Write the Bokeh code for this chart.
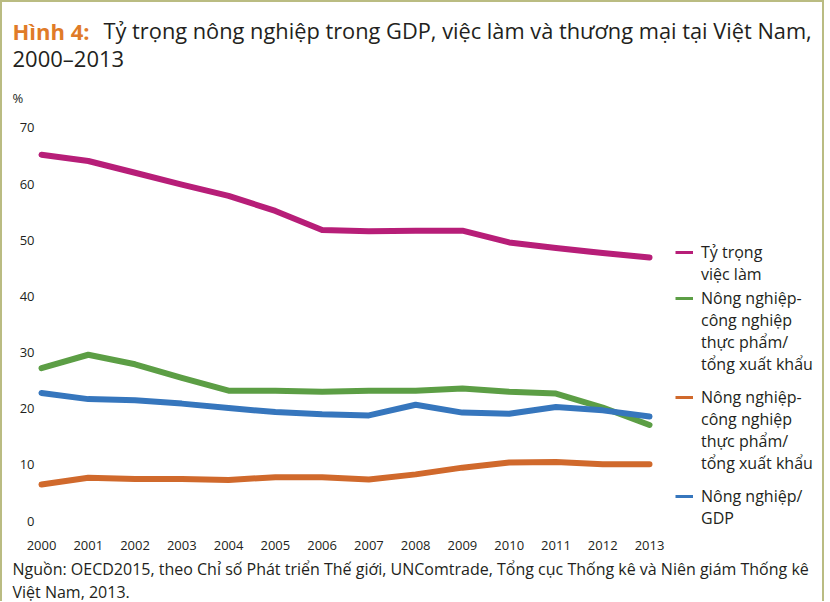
from bokeh.plotting import figure
from bokeh.layouts import column
from bokeh.models import (Range1d, FixedTicker, Legend, LegendItem, Label,
                          ColumnDataSource)
from bokeh.embed import file_html
from bokeh.resources import INLINE

# ---- data ----
years = [2000, 2001, 2002, 2003, 2004, 2005, 2006, 2007, 2008, 2009, 2010, 2011, 2012, 2013]
ty_trong_viec_lam = [65.2, 64.1, 62.0, 59.9, 57.9, 55.2, 51.8, 51.6, 51.7, 51.7, 49.6, 48.6, 47.7, 46.9]
nn_xuat_khau = [27.2, 29.6, 27.9, 25.5, 23.2, 23.2, 23.0, 23.2, 23.2, 23.6, 23.0, 22.7, 20.2, 17.1]
nn_nhap_khau = [6.5, 7.7, 7.5, 7.5, 7.3, 7.8, 7.8, 7.4, 8.3, 9.5, 10.4, 10.5, 10.1, 10.1]
nn_gdp = [22.8, 21.7, 21.5, 20.9, 20.1, 19.4, 19.0, 18.8, 20.7, 19.3, 19.1, 20.3, 19.7, 18.6]
y_ticks = [0, 10, 20, 30, 40, 50, 60, 70]

series_labels = [["Tỷ trọng", "việc làm"],
                 ["Nông nghiệp-", "công nghiệp", "thực phẩm/", "tổng xuất khẩu"],
                 ["Nông nghiệp-", "công nghiệp", "thực phẩm/", "tổng xuất khẩu"],
                 ["Nông nghiệp/", "GDP"]]
series_values = [ty_trong_viec_lam, nn_xuat_khau, nn_nhap_khau, nn_gdp]
series_colors = ["#b71e78", "#5c9e45", "#d0692c", "#3676bd"]
legend_offsets = [245, 155, 56, 1]  # legend block positions above the frame bottom (px)

title_bold = "Hình 4:"
title_rest = "Tỷ trọng nông nghiệp trong GDP, việc làm và thương mại tại Việt Nam,"
title_line2 = "2000–2013"
unit_label = "%"
source_line1 = "Nguồn: OECD2015, theo Chỉ số Phát triển Thế giới, UNComtrade, Tổng cục Thống kê và Niên giám Thống kê"
source_line2 = "Việt Nam, 2013."

FONT = "Open Sans"
TEXT = "#231f20"
W = 820
HEAD_H, MAIN_H, FOOT_H = 104, 451, 44


def no_align(f):
    try:
        f.frame_align = False
    except Exception:
        pass


def text_panel(height):
    f = figure(width=W, height=height, output_backend="svg", toolbar_location=None,
               x_range=Range1d(0, W), y_range=Range1d(height, 0),
               x_axis_location=None, y_axis_location=None,
               min_border=0, min_border_left=0, min_border_right=0,
               min_border_top=0, min_border_bottom=0)
    f.outline_line_color = None
    f.xgrid.visible = False
    f.ygrid.visible = False
    f.border_fill_color = "white"
    f.background_fill_color = "white"
    no_align(f)
    return f


def lab(text, x, y, size, color=TEXT, style="normal"):
    return Label(x=x, y=y, text=text, text_font=FONT, text_font_style=style,
                 text_font_size=size, text_color=color, text_baseline="middle")


# ---- header (title) ----
head = text_panel(HEAD_H)
head.add_layout(lab(title_bold, 10, 28, "22px", color="#e07b28", style="bold"))
head.add_layout(lab(title_rest, 101, 28, "21.8px"))
head.add_layout(lab(title_line2, 10, 55, "22px"))
head.add_layout(lab(unit_label, 10, 95, "13px"))

# ---- main chart ----
p = figure(width=W, height=MAIN_H, output_backend="svg", toolbar_location=None,
           x_range=Range1d(1999.893, 2016.699), y_range=Range1d(-1.691, 73.80),
           min_border_left=34, min_border_right=0, min_border_top=0,
           min_border_bottom=27)
no_align(p)
p.outline_line_color = None
p.xgrid.visible = False
p.ygrid.visible = False
p.background_fill_color = "white"
p.border_fill_color = "white"

for ax in (p.xaxis[0], p.yaxis[0]):
    ax.axis_line_color = None
    ax.major_tick_line_color = None
    ax.minor_tick_line_color = None
    ax.major_tick_out = 0
    ax.major_tick_in = 0
    ax.minor_tick_out = 0
    ax.major_label_text_font = FONT
    ax.major_label_text_font_size = "13px"
    ax.major_label_text_color = TEXT
p.xaxis[0].ticker = FixedTicker(ticks=years)
p.yaxis[0].ticker = FixedTicker(ticks=y_ticks)
p.xaxis[0].major_label_standoff = 10
p.yaxis[0].major_label_standoff = 2

for lines, vals, col, off in zip(series_labels, series_values, series_colors, legend_offsets):
    src = ColumnDataSource(dict(x=years, y=vals))
    p.line("x", "y", source=src, line_color=col, line_width=6,
           line_cap="round", line_join="round")
    proxy = p.line(x=[float("nan")], y=[float("nan")], line_color=col, line_width=3)
    blank = p.line(x=[float("nan")], y=[float("nan")], line_color=col, line_alpha=0)
    items = [LegendItem(label=t, renderers=[proxy if i == 0 else blank])
             for i, t in enumerate(lines)]
    lg = Legend(items=items, location=(639, off))
    lg.background_fill_alpha = 0
    lg.border_line_color = None
    lg.padding = 0
    lg.margin = 0
    lg.spacing = 0
    lg.glyph_width = 18
    lg.glyph_height = 22
    lg.label_height = 22
    lg.label_standoff = 8
    lg.label_text_font = FONT
    lg.label_text_font_size = "16px"
    lg.label_text_color = TEXT
    lg.label_text_line_height = 1.2
    p.add_layout(lg)

# ---- footer (source) ----
foot = text_panel(FOOT_H)
foot.add_layout(lab(source_line1, 10, 11, "16px"))
foot.add_layout(lab(source_line2, 10, 34, "16px"))

layout = column(head, p, foot, spacing=0)
layout.styles = {"border-top": "2px solid #babc82", "border-left": "2px solid #babc82",
                 "border-right": "2px solid #babc82"}

open("out.html", "w").write(file_html(layout, INLINE))
